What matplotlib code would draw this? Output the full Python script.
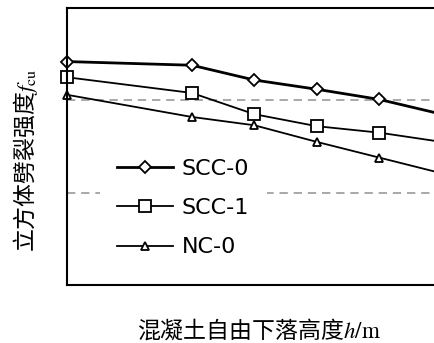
import matplotlib
matplotlib.use("Agg")
import matplotlib.pyplot as plt

plt.rcParams['font.family'] = ['Noto Sans CJK SC', 'DejaVu Sans']
plt.rcParams['mathtext.fontset'] = 'stix'

# 下落高度 h/m
heights = [0, 2, 3, 4, 5, 6]
# 劈裂强度
scc0 = [4.42, 4.38, 4.22, 4.12, 4.01, 3.85]
scc1 = [4.25, 4.08, 3.85, 3.72, 3.65, 3.55]
nc0 = [4.06, 3.82, 3.73, 3.55, 3.38, 3.21]
ref_levels = [4.0, 3.0]
labels = ["SCC-0", "SCC-1", "NC-0"]

fig = plt.figure(figsize=(4.35, 3.43), dpi=100)
ax = fig.add_axes([67 / 435, 1 - 285 / 343, 384 / 435, 277 / 343])

for lv in ref_levels:
    ax.axhline(lv, color='#9a9a9a', linestyle=(0, (5, 3.5)), linewidth=1.2, zorder=1)

ax.plot(heights, scc0, color='black', linewidth=2.0, marker='D', markersize=6,
        markerfacecolor='white', markeredgecolor='black', markeredgewidth=1.3,
        label=labels[0], clip_on=False)
ax.plot(heights, scc1, color='black', linewidth=1.3, marker='s', markersize=9,
        markerfacecolor='white', markeredgecolor='black', markeredgewidth=1.3,
        label=labels[1], clip_on=False)
ax.plot(heights, nc0, color='black', linewidth=1.3, marker='^', markersize=6,
        markerfacecolor='white', markeredgecolor='black', markeredgewidth=1.3,
        label=labels[2], clip_on=False)

ax.set_xlim(0, 6.15)
ax.set_ylim(2.0, 5.0)
ax.set_xticks([])
ax.set_yticks([])
ax.spines['right'].set_visible(False)
for s in ['left', 'top', 'bottom']:
    ax.spines[s].set_linewidth(1.5)

leg = ax.legend(loc='center left', bbox_to_anchor=(0.085, 0.278),
                prop={'family': ['DejaVu Sans'], 'size': 16},
                frameon=True, fancybox=False, borderpad=0.8,
                handlelength=2.5, handletextpad=0.4, labelspacing=0.87,
                borderaxespad=0)
leg.get_frame().set_edgecolor('none')
leg.get_frame().set_facecolor('white')
leg.get_frame().set_alpha(1)

fig.text(26 / 435, 1 - 160 / 343, r'立方体劈裂强度$f_{\mathrm{cu}}$', rotation=90,
         ha='center', va='center', fontsize=16.5)
fig.text(259 / 435, 1 - 330 / 343, r'混凝土自由下落高度$h\mathrm{/m}$',
         ha='center', va='center', fontsize=16.5)

fig.savefig('out.png', dpi=100)
